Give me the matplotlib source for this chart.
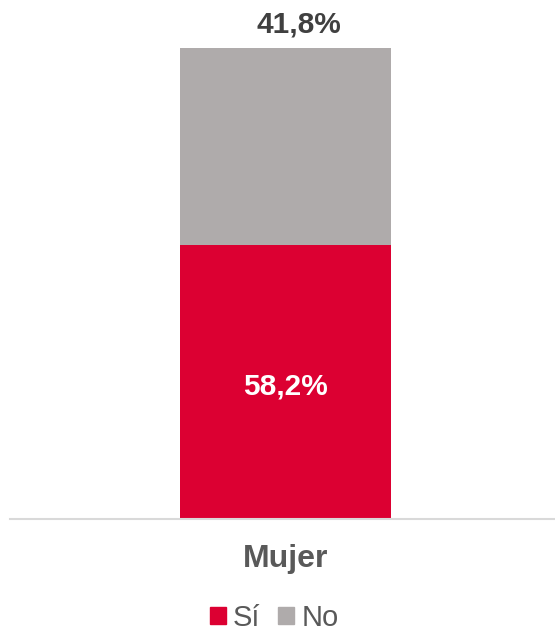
import matplotlib.pyplot as plt
from matplotlib.patches import Patch

plt.rcParams['font.family'] = ['Liberation Sans', 'DejaVu Sans']

categorias = ['Mujer']
si = [58.2]
no = [41.8]
series = ['Sí', 'No']
colores = ['#DC0032', '#AFABAB']

fig = plt.figure(figsize=(5.55, 6.31), dpi=100)
ax = fig.add_axes([10/555, 112/631, 545/555, 471/631])

x = [0]
ax.bar(x, si, width=0.774, color=colores[0])
ax.bar(x, no, width=0.774, bottom=si, color=colores[1])
ax.set_xlim(-1.011, 0.989)
ax.set_ylim(0, 100)

for i in range(len(categorias)):
    ax.text(x[i], si[i] / 2 - 1.0, ('%.1f%%' % si[i]).replace('.', ','), ha='center', va='center',
            color='white', fontsize=21.5, fontweight='bold')
    ax.text(x[i] + 0.05, si[i] + no[i] + 4.9, ('%.1f%%' % no[i]).replace('.', ','), ha='center', va='center',
            color='#404040', fontsize=21.5, fontweight='bold')
    ax.text(x[i], -8.5, categorias[i], ha='center', va='center',
            color='#595959', fontsize=23, fontweight='bold')

for s in ['top', 'right', 'left']:
    ax.spines[s].set_visible(False)
ax.spines['bottom'].set_color('#D9D9D9')
ax.spines['bottom'].set_linewidth(1.5)
ax.set_xticks([])
ax.set_yticks([])

handles = [Patch(color=c) for c in colores]
leg = fig.legend(handles, series, loc='center', bbox_to_anchor=(274/555, 1 - 618/631),
                 ncol=2, frameon=False, fontsize=21, handlelength=0.55, handleheight=0.55,
                 handletextpad=0.25, columnspacing=0.6, labelcolor='#595959',
                 borderpad=0.1)

fig.savefig('out.png', dpi=100)
